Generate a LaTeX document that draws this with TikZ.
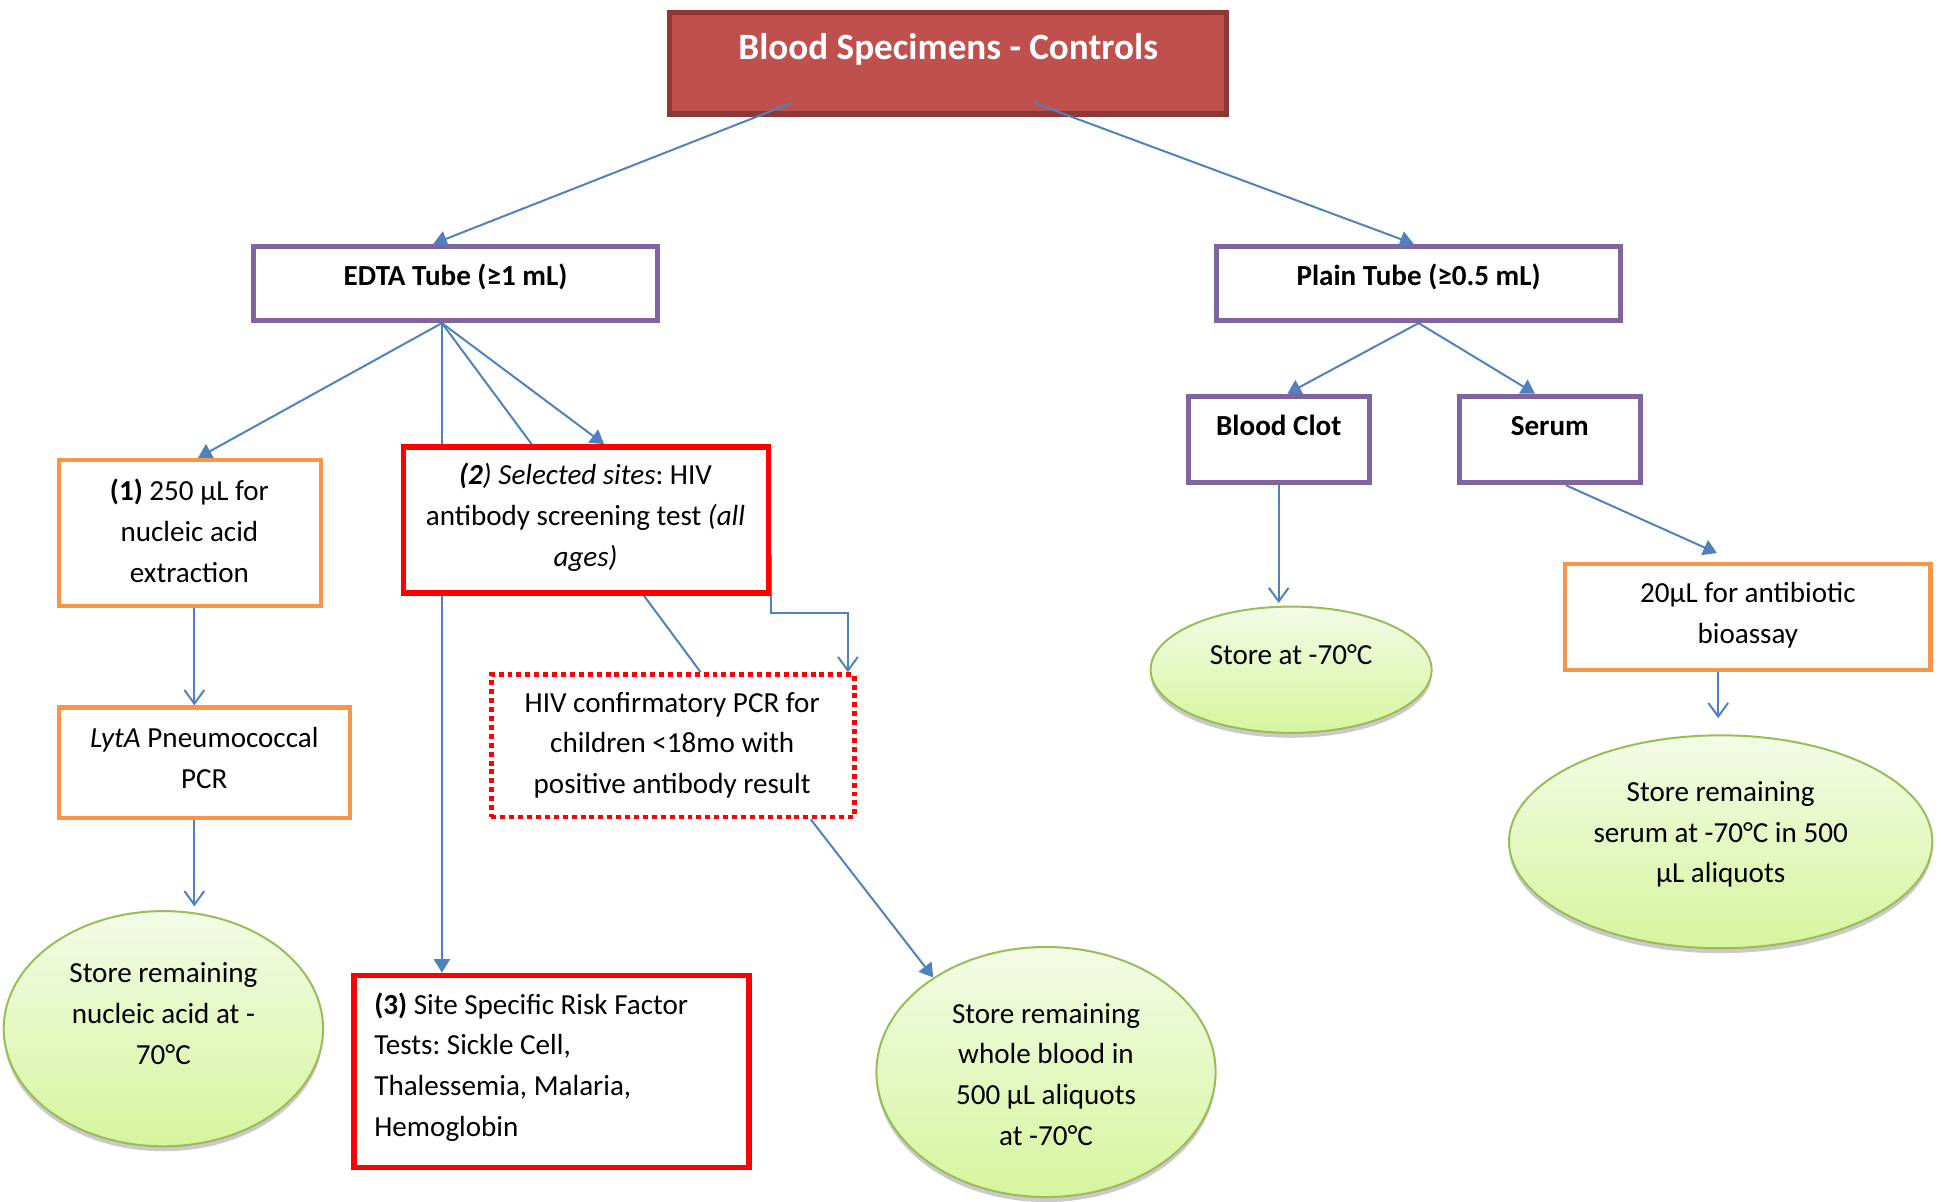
\documentclass[tikz,border=0pt]{standalone}
\usepackage{fontspec}
\setmainfont{Carlito}
\frenchspacing
\usetikzlibrary{shapes.geometric,arrows.meta,backgrounds,shadows}

\definecolor{titlefill}{HTML}{C0504D}
\definecolor{titleedge}{HTML}{8C3836}
\definecolor{tubeedge}{HTML}{8064A2}
\definecolor{stepedge}{HTML}{F79646}
\definecolor{testedge}{HTML}{FF0000}
\definecolor{flow}{HTML}{4F81BD}
\definecolor{storeedge}{HTML}{9BBB59}
\definecolor{storetop}{HTML}{F3FBE6}
\definecolor{storebottom}{HTML}{D6F59E}

\tikzset{
  body/.style={font=\fontsize{11.75}{16.5}\selectfont, align=center, inner sep=0pt},
  titlebox/.style={draw=titleedge, line width=2.2pt, fill=titlefill, inner sep=0pt},
  tubebox/.style={draw=tubeedge, line width=2pt, fill=white, inner sep=0pt},
  stepbox/.style={draw=stepedge, line width=1.7pt, fill=white, inner sep=0pt},
  testbox/.style={draw=testedge, line width=2.2pt, fill=white, inner sep=0pt},
  dotbox/.style={draw=testedge, line width=2pt, dash pattern=on 2pt off 1.6pt, fill=white, inner sep=0pt},
  storeblob/.style={ellipse, draw=storeedge, line width=0.8pt, inner sep=0pt,
    top color=storetop, bottom color=storebottom,
    drop shadow={shadow xshift=0pt, shadow yshift=-2pt, opacity=0.35, fill=black!60}},
  link/.style={draw=flow, line width=0.8pt},
  solidtip/.style={link, -{Triangle[length=5.5pt,width=6.5pt]}},
  opentip/.style={link, -{Straight Barb[length=5.5pt,width=8pt]}},
}

\begin{document}
\begin{tikzpicture}[x=0.5pt,y=-0.5pt]
\useasboundingbox (0,0) rectangle (1568,971);

% --- header ---
\node[titlebox, minimum width=225pt, minimum height=41pt] (title) at (766,51) {};
\node[body, font=\fontsize{15}{18}\selectfont\bfseries, text=white] (title-t) at (766,40) {Blood Specimens - Controls};

% --- tubes ---
\node[tubebox, minimum width=163pt, minimum height=30pt] (edta) at (368,229) {};
\node[body, font=\fontsize{11.75}{16.5}\selectfont\bfseries] (edta-t) at (368,224) {EDTA Tube (≥1 mL)};
\node[tubebox, minimum width=163pt, minimum height=30pt] (plain) at (1146,229) {};
\node[body, font=\fontsize{11.75}{16.5}\selectfont\bfseries] (plain-t) at (1146,224) {Plain Tube (≥0.5 mL)};
\node[tubebox, minimum width=73pt, minimum height=35pt] (clot) at (1033,355) {};
\node[body, font=\fontsize{11.75}{16.5}\selectfont\bfseries] (clot-t) at (1033,344) {Blood Clot};
\node[tubebox, minimum width=73pt, minimum height=35pt] (serum) at (1252,355) {};
\node[body, font=\fontsize{11.75}{16.5}\selectfont\bfseries] (serum-t) at (1252,344) {Serum};

% --- EDTA branch ---
\node[stepbox, minimum width=106pt, minimum height=59pt] (nucleic) at (153.5,430.5) {};
\node[body] (nucleic-t) at (153,429) {\textbf{(1)} 250 µL for\\nucleic acid\\extraction};
\node[stepbox, minimum width=117.5pt, minimum height=44.5pt] (lyta) at (165,616) {};
\node[body] (lyta-t) at (165,612) {\textit{LytA} Pneumococcal\\PCR};
\node[storeblob, minimum width=129pt, minimum height=95pt] (keepna) at (132,831) {};
\node[body] (keepna-t) at (132,819) {Store remaining\\nucleic acid at -\\70°C};

\node[testbox, minimum width=147.5pt, minimum height=59pt] (hivab) at (473.5,420) {};
\node[body] (hivab-t) at (473,418) {\textbf{\textit{(2}}\textit{) Selected sites}: HIV\\antibody screening test \textit{(all}\\\textit{ages)}};
\node[dotbox, minimum width=146.5pt, minimum height=57.5pt] (hivpcr) at (543.5,602.5) {};
\node[body] (hivpcr-t) at (543,602) {HIV confirmatory PCR for\\children <18mo with\\positive antibody result};
\node[testbox, minimum width=159.5pt, minimum height=77.5pt] (risk) at (445.5,865.5) {};
\node[body, align=left, anchor=west] (risk-t) at (302,862) {\textbf{(3)} Site Specific Risk Factor\\Tests: Sickle Cell,\\Thalessemia, Malaria,\\Hemoglobin};
\node[storeblob, minimum width=137pt, minimum height=101pt] (keepwb) at (845,866) {};
\node[body] (keepwb-t) at (845,868) {Store remaining\\whole blood in\\500 µL aliquots\\at -70°C};

% --- plain tube branch ---
\node[storeblob, minimum width=113.5pt, minimum height=51pt] (keepclot) at (1043,541) {};
\node[body] (keepclot-t) at (1043,529) {Store at -70°C};
\node[stepbox, minimum width=147.5pt, minimum height=43pt] (bio) at (1412,498.5) {};
\node[body] (bio-t) at (1412,497) {20µL for antibiotic\\bioassay};
\node[storeblob, minimum width=171pt, minimum height=86pt] (keepserum) at (1390,680) {};
\node[body] (keepserum-t) at (1390,674) {Store remaining\\serum at -70°C in 500\\µL aliquots};

% --- connectors behind the boxes ---
\begin{pgfonlayer}{background}
  \coordinate (eo) at ([xshift=-5.5pt]edta.south);
  \draw[solidtip] (eo) -- ([xshift=3.25pt]nucleic.north);
  \draw[solidtip] (eo) -- (eo |- risk.north);
  \draw[link] (eo) -- ([xshift=11.25pt]hivpcr.north);
  \draw[solidtip] (eo) -- ([xshift=7.25pt]hivab.north);
  \coordinate (hivab-e) at ([yshift=-14pt]hivab.east);
  \coordinate (elbow) at (685,495);
  \draw[opentip] (hivab-e) |- (elbow) -- (elbow |- hivpcr.north);
  \draw[solidtip] ([xshift=55.75pt]hivpcr.south) -- (keepwb.140);
  \draw[opentip] ([xshift=1.75pt]nucleic.south) -- ([xshift=-4pt]lyta.north);
  \draw[opentip] ([xshift=-4pt]lyta.south) -- ([xshift=12.5pt, yshift=1.5pt]keepna.north);

  \draw[solidtip] (plain.south) -- ([xshift=3.5pt]clot.north);
  \draw[solidtip] (plain.south) -- ([xshift=-6pt]serum.north);
  \draw[solidtip] ([xshift=6.5pt]serum.south) -- ([xshift=-12.5pt, yshift=3.5pt]bio.north);
  \draw[opentip] (clot.south) -- ([yshift=1pt]clot.south |- keepclot.north);
  \draw[opentip] ([xshift=-12pt]bio.south) -- ([xshift=-12pt, yshift=6.5pt]bio.south |- keepserum.north);
\end{pgfonlayer}

% --- connectors leaving the header ---
\draw[solidtip] ([xshift=-63pt, yshift=-16pt]title.center) -- ([xshift=-9pt]edta.north);
\draw[solidtip] ([xshift=34.5pt, yshift=-16pt]title.center) -- ([xshift=-2pt]plain.north);
\end{tikzpicture}
\end{document}
